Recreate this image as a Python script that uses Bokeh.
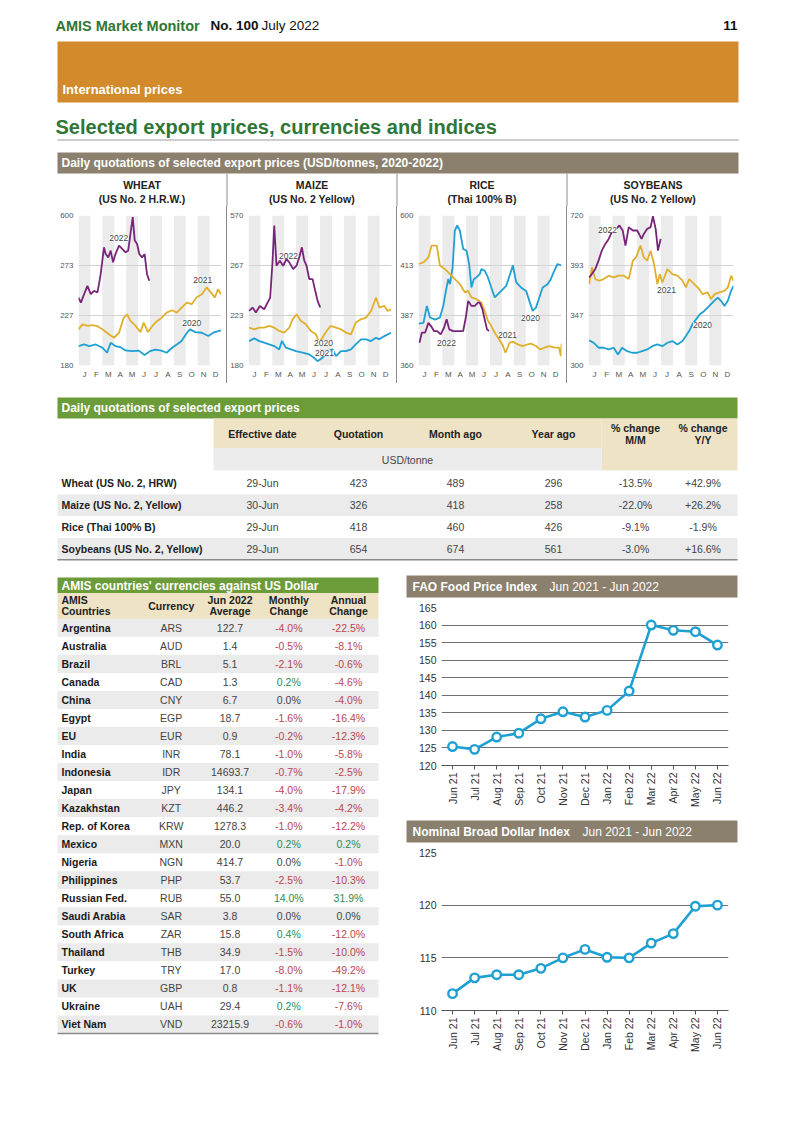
import math
import numpy as np
from bokeh.plotting import figure
from bokeh.layouts import column, row
from bokeh.models import Range1d, FactorRange, FixedTicker, Label, Spacer
from bokeh.core.properties import value
from bokeh.embed import file_html
from bokeh.resources import INLINE

FONT = "Liberation Sans"
BLUE = "#1EA0D2"
GOLD = "#E0B02D"
PURPLE = "#7A2479"
GREEN_T = "#2F7636"
ORANGE = "#D28A2A"
BROWN = "#8B806E"
GREEN_BAR = "#6C9B3A"
BEIGE = "#EEE3C4"
ROWGRAY = "#EBEBEB"
SEP = "#8c8c8c"
RED_T = "#B9464F"
GRN_T = "#2A8C50"

# ---------------- daily export price charts ----------------
MONTHS = ["J", "F", "M", "A", "M", "J", "J", "A", "S", "O", "N", "D"]

WHEAT_TICKS = [180, 227, 273, 600]
W20_X = [0.0, 0.47, 0.9, 1.45, 2.0, 2.4, 2.7, 3.1, 3.5, 3.95, 4.5, 5.05, 5.55, 6.0, 6.45, 6.95, 7.4, 7.85, 8.25, 8.65, 9.1, 9.35, 9.8, 10.35, 10.9, 11.3, 11.95]
W20_Y = [198.3, 199.8, 198.3, 199.8, 196.7, 192.0, 201.4, 198.3, 197.3, 194.2, 193.5, 194.0, 189.8, 193.5, 195.0, 194.0, 192.0, 196.7, 199.8, 203.0, 210.8, 214.0, 211.4, 210.8, 207.7, 210.8, 213.0]
W21_X = [0.0, 0.33, 0.75, 1.17, 1.6, 2.0, 2.55, 2.97, 3.4, 3.8, 4.08, 4.36, 4.8, 5.2, 5.47, 5.83, 6.2, 6.6, 7.0, 7.4, 7.85, 8.25, 8.65, 9.1, 9.5, 9.9, 10.35, 10.75, 11.0, 11.45, 11.7, 11.95]
W21_Y = [214.0, 218.7, 217.2, 218.0, 217.0, 214.0, 209.3, 206.1, 210.8, 225.0, 228.1, 221.9, 217.2, 211.4, 220.3, 211.4, 217.2, 221.9, 225.0, 229.7, 231.8, 229.7, 234.3, 238.9, 237.4, 243.5, 246.6, 252.8, 249.7, 243.5, 251.2, 246.6]
W22_X = [0.0, 0.2, 0.47, 0.75, 1.03, 1.3, 1.58, 1.72, 1.86, 2.0, 2.14, 2.28, 2.5, 2.7, 2.9, 3.1, 3.4, 3.67, 3.95, 4.17, 4.36, 4.55, 4.72, 4.92, 5.1, 5.33, 5.55, 5.75, 5.94]
W22_Y = [243.5, 238.9, 246.6, 254.3, 246.6, 249.7, 248.1, 255.9, 265.1, 304.5, 392.0, 348.0, 326.0, 370.0, 293.6, 348.0, 403.0, 381.0, 359.0, 370.0, 479.7, 589.0, 436.0, 414.0, 348.0, 326.0, 348.0, 265.0, 259.0]

MAIZE_TICKS = [180, 223, 267, 570]
M20_X = [0.05, 0.48, 0.9, 1.32, 1.74, 2.16, 2.58, 2.8, 3.14, 3.56, 3.98, 4.54, 5.1, 5.5, 5.8, 6.2, 6.64, 7.06, 7.34, 7.76, 8.18, 8.6, 9.0, 9.44, 9.86, 10.28, 10.7, 10.98, 11.4, 11.96]
M20_Y = [201.0, 203.3, 201.0, 199.6, 198.1, 196.7, 193.8, 201.0, 195.3, 193.8, 192.4, 191.0, 189.5, 186.6, 183.7, 186.6, 192.4, 193.8, 188.0, 192.4, 192.4, 193.8, 198.1, 202.5, 202.5, 201.0, 203.9, 202.5, 205.3, 208.2]
M21_X = [0.05, 0.48, 0.9, 1.32, 1.74, 2.16, 2.58, 3.0, 3.42, 3.7, 4.03, 4.4, 4.82, 5.24, 5.66, 5.94, 6.2, 6.55, 6.9, 7.34, 7.76, 8.18, 8.6, 9.0, 9.44, 9.86, 10.28, 10.7, 10.98, 11.4, 11.68, 11.96]
M21_Y = [212.5, 211.1, 212.5, 212.5, 214.0, 212.5, 209.7, 208.2, 212.5, 219.7, 224.1, 218.3, 215.4, 209.7, 206.8, 199.6, 203.9, 209.7, 214.0, 212.5, 211.1, 208.2, 206.8, 216.9, 219.7, 221.2, 227.0, 238.8, 230.0, 231.4, 227.0, 228.5]
M22_X = [0.05, 0.34, 0.62, 0.95, 1.32, 1.6, 1.82, 2.02, 2.16, 2.35, 2.63, 2.91, 3.19, 3.42, 3.75, 4.03, 4.26, 4.48, 4.68, 4.87, 5.1, 5.38, 5.6, 5.8, 6.02]
M22_Y = [227.0, 230.0, 225.6, 231.4, 228.5, 234.4, 238.8, 296.0, 509.0, 266.8, 296.0, 266.8, 306.4, 286.0, 263.9, 266.8, 316.5, 377.0, 296.0, 266.8, 255.0, 255.0, 244.7, 235.9, 230.0]

RICE_TICKS = [360, 387, 413, 600]
R20_X = [0.0, 0.42, 0.7, 0.97, 1.4, 1.8, 2.08, 2.3, 2.5, 2.64, 2.86, 3.05, 3.25, 3.47, 3.75, 4.03, 4.25, 4.44, 4.64, 4.86, 5.14, 5.28, 5.55, 5.83, 6.11, 6.4, 6.67, 6.94, 7.36, 7.64, 7.92, 8.2, 8.6, 9.03, 9.3, 9.58, 9.86, 10.14, 10.42, 10.83, 11.1, 11.4, 11.67, 12.0]
R20_Y = [382.6, 383.0, 392.0, 385.9, 384.8, 385.9, 392.0, 399.8, 405.9, 403.3, 412.0, 543.9, 562.6, 543.9, 474.7, 468.5, 418.6, 401.6, 405.9, 406.8, 408.5, 411.2, 410.3, 406.8, 401.6, 396.4, 398.1, 399.8, 402.4, 407.7, 413.0, 404.2, 401.6, 399.8, 394.6, 389.4, 391.1, 396.4, 401.6, 403.3, 405.9, 410.3, 418.6, 413.0]
R21_X = [0.0, 0.42, 0.83, 1.1, 1.53, 1.8, 2.2, 2.64, 3.05, 3.47, 3.9, 4.17, 4.44, 4.86, 5.28, 5.55, 5.83, 6.11, 6.4, 6.67, 7.03, 7.3, 7.64, 7.92, 8.33, 8.75, 9.17, 9.44, 9.86, 10.2, 10.56, 10.97, 11.4, 11.8, 11.95, 12.0]
R21_Y = [418.6, 424.8, 443.5, 487.4, 487.4, 413.0, 411.2, 408.5, 405.9, 403.3, 399.0, 399.8, 396.4, 395.5, 393.7, 389.4, 384.1, 381.3, 377.7, 375.0, 371.4, 366.9, 372.3, 372.8, 371.4, 370.5, 371.4, 371.8, 370.5, 368.7, 369.6, 370.5, 369.6, 369.6, 365.0, 371.8]
R22_X = [0.08, 0.28, 0.55, 0.83, 1.05, 1.3, 1.58, 1.86, 2.14, 2.36, 2.58, 2.92, 3.33, 3.75, 3.97, 4.17, 4.44, 4.72, 5.0, 5.14, 5.36, 5.55, 5.75, 5.92]
R22_Y = [372.3, 377.7, 377.7, 383.0, 381.3, 378.6, 378.6, 376.8, 380.4, 385.0, 379.5, 378.6, 378.6, 378.6, 385.9, 394.6, 392.0, 392.0, 393.7, 393.7, 390.3, 385.0, 379.5, 378.6]

SOY_TICKS = [300, 347, 393, 720]
S20_X = [0.06, 0.42, 0.83, 1.25, 1.67, 2.08, 2.44, 2.78, 3.2, 3.6, 4.03, 4.44, 4.86, 5.28, 5.7, 6.11, 6.53, 6.94, 7.36, 7.78, 8.06, 8.33, 8.6, 8.9, 9.22, 9.58, 10.0, 10.4, 10.7, 10.97, 11.25, 11.53, 11.8, 12.0]
S20_Y = [323.6, 321.4, 316.7, 316.7, 315.1, 316.7, 310.4, 316.7, 313.5, 312.0, 312.0, 313.5, 315.1, 318.2, 319.8, 318.2, 321.4, 323.0, 319.8, 323.0, 327.7, 332.4, 338.7, 343.4, 348.1, 351.2, 355.8, 360.5, 363.5, 360.5, 355.8, 360.5, 369.7, 374.3]
S21_X = [0.06, 0.28, 0.56, 0.9, 1.25, 1.67, 2.08, 2.5, 2.92, 3.33, 3.67, 3.94, 4.3, 4.58, 4.86, 5.14, 5.42, 5.7, 5.9, 6.11, 6.53, 6.94, 7.36, 7.78, 8.06, 8.33, 8.75, 9.17, 9.44, 9.86, 10.14, 10.42, 10.83, 11.25, 11.53, 11.8, 12.0]
S21_Y = [375.9, 391.3, 380.5, 379.0, 380.5, 383.6, 382.0, 383.6, 383.6, 380.5, 424.4, 446.3, 523.0, 446.3, 424.4, 490.0, 402.8, 375.9, 385.1, 377.4, 389.7, 385.1, 383.6, 379.0, 372.8, 380.5, 375.9, 371.2, 366.6, 368.2, 362.0, 366.6, 368.2, 369.7, 372.8, 383.6, 379.0]
S22_X = [0.06, 0.28, 0.56, 0.83, 1.1, 1.39, 1.67, 2.0, 2.28, 2.56, 2.83, 3.06, 3.33, 3.67, 4.03, 4.39, 4.58, 4.86, 5.14, 5.33, 5.56, 5.75, 5.97]
S22_Y = [382.0, 385.1, 389.7, 424.4, 490.0, 534.0, 567.0, 622.0, 632.7, 654.6, 622.0, 523.0, 643.6, 622.0, 622.0, 567.0, 599.6, 632.7, 643.6, 715.0, 632.7, 490.0, 567.0]

PANEL_NAMES = ["WHEAT", "MAIZE", "RICE", "SOYBEANS"]
PANEL_SUBS = ["(US No. 2 H.R.W.)", "(US No. 2 Yellow)", "(Thai 100% B)", "(US No. 2 Yellow)"]
YEARS = ["2020", "2021", "2022"]

# ---------------- table: daily quotations ----------------
PRODUCTS = ["Wheat (US No. 2, HRW)", "Maize (US No. 2, Yellow)", "Rice (Thai 100% B)", "Soybeans (US No. 2, Yellow)"]
EFF_DATE = ["29-Jun", "30-Jun", "29-Jun", "29-Jun"]
QUOTATION = [423, 326, 418, 654]
MONTH_AGO = [489, 418, 460, 674]
YEAR_AGO = [296, 258, 426, 561]
CHG_MM = [-13.5, -22.0, -9.1, -3.0]
CHG_YY = [42.9, 26.2, -1.9, 16.6]

# ---------------- table: currencies ----------------
COUNTRIES = ["Argentina", "Australia", "Brazil", "Canada", "China", "Egypt", "EU", "India", "Indonesia", "Japan",
             "Kazakhstan", "Rep. of Korea", "Mexico", "Nigeria", "Philippines", "Russian Fed.", "Saudi Arabia",
             "South Africa", "Thailand", "Turkey", "UK", "Ukraine", "Viet Nam"]
CURRENCIES = ["ARS", "AUD", "BRL", "CAD", "CNY", "EGP", "EUR", "INR", "IDR", "JPY", "KZT", "KRW", "MXN", "NGN",
              "PHP", "RUB", "SAR", "ZAR", "THB", "TRY", "GBP", "UAH", "VND"]
AVERAGE = [122.7, 1.4, 5.1, 1.3, 6.7, 18.7, 0.9, 78.1, 14693.7, 134.1, 446.2, 1278.3, 20.0, 414.7, 53.7, 55.0,
           3.8, 15.8, 34.9, 17.0, 0.8, 29.4, 23215.9]
MONTHLY = [-4.0, -0.5, -2.1, 0.2, 0.0, -1.6, -0.2, -1.0, -0.7, -4.0, -3.4, -1.0, 0.2, 0.0, -2.5, 14.0, 0.0,
           0.4, -1.5, -8.0, -1.1, 0.2, -0.6]
ANNUAL = [-22.5, -8.1, -0.6, -4.6, -4.0, -16.4, -12.3, -5.8, -2.5, -17.9, -4.2, -12.2, 0.2, -1.0, -10.3, 31.9,
          0.0, -12.0, -10.0, -49.2, -12.1, -7.6, -1.0]

# ---------------- indices ----------------
IDX_MONTHS = ["Jun 21", "Jul 21", "Aug 21", "Sep 21", "Oct 21", "Nov 21", "Dec 21", "Jan 22", "Feb 22",
              "Mar 22", "Apr 22", "May 22", "Jun 22"]
FFPI = [125.4, 124.6, 128.1, 129.2, 133.3, 135.3, 133.8, 135.7, 141.2, 160.0, 158.5, 158.1, 154.3]
DOLLAR = [111.6, 113.1, 113.4, 113.4, 114.0, 115.0, 115.8, 115.05, 115.0, 116.4, 117.3, 119.9, 120.0]


def canvas(x0, x1, y0, y1):
    p = figure(width=int(x1 - x0), height=int(y1 - y0), x_range=Range1d(x0, x1), y_range=Range1d(y1, y0),
               toolbar_location=None, output_backend="svg", min_border=0,
               x_axis_type=None, y_axis_type=None, title=None)
    p.outline_line_color = None
    return p


def put(p, xs, ys, texts, size, color="#333333", bold=False, align="left"):
    p.text(x=list(xs), y=list(ys), text=list(texts), text_font=value(FONT), text_font_size=size,
           text_color=color, text_font_style="bold" if bold else "normal",
           text_align=align, text_baseline="middle")


def box(p, l, r, t, b, color):
    p.quad(left=[l], right=[r], top=[t], bottom=[b], fill_color=color, line_color=None)


def pct_color(v):
    return RED_T if v < 0 else (GRN_T if v > 0 else "#444444")


# ======== header ========
hdr = canvas(8, 785, 8, 206)
put(hdr, [55], [25], ["AMIS Market Monitor"], "14.5px", GREEN_T, bold=True)
put(hdr, [210], [25], ["No. 100"], "13.5px", "#111111", bold=True)
put(hdr, [261], [25], ["July 2022"], "13.5px", "#111111")
put(hdr, [737], [25], ["11"], "13.5px", "#111111", bold=True, align="right")
box(hdr, 57, 738, 41, 102, ORANGE)
put(hdr, [62], [89], ["International prices"], "13px", "white", bold=True)
put(hdr, [55], [126], ["Selected export prices, currencies and indices"], "20px", GREEN_T, bold=True)
hdr.segment(x0=[57], y0=[139.5], x1=[738], y1=[139.5], line_color="#9a9a9a", line_width=1)
box(hdr, 57, 738, 152, 173, BROWN)
put(hdr, [61], [162.5], ["Daily quotations of selected export prices (USD/tonnes, 2020-2022)"], "12px", "white", bold=True)
SEP_X = [226.5, 396.5, 566.5]
hdr.segment(x0=SEP_X, y0=[173] * 3, x1=SEP_X, y1=[206] * 3, line_color=SEP, line_width=1)
PANEL_CX = [141.5, 311.5, 481.5, 652.5]
put(hdr, PANEL_CX, [184] * 4, PANEL_NAMES, "10.5px", "#222222", bold=True, align="center")
put(hdr, PANEL_CX, [198] * 4, PANEL_SUBS, "10.5px", "#222222", bold=True, align="center")


# ======== small charts ========
def small_chart(width, ticks, series, labels):
    pos = list(range(len(ticks)))
    p = figure(width=width, height=177, x_range=Range1d(0, len(MONTHS)), y_range=Range1d(0, pos[-1]),
               toolbar_location=None, output_backend="svg", title=None,
               min_border_left=21, min_border_right=5, min_border_top=9, min_border_bottom=18)
    p.outline_line_color = None
    p.background_fill_color = "white"
    left = [i for i in range(0, len(MONTHS), 2)]
    p.quad(left=left, right=[i + 1 for i in left], bottom=0, top=pos[-1], fill_color="#EBEBEB",
           line_color=None, level="image")
    p.xgrid.visible = False
    p.ygrid.ticker = FixedTicker(ticks=pos)
    p.ygrid.grid_line_color = "#d2d2d2"
    p.ygrid.grid_line_width = 1
    p.yaxis.ticker = FixedTicker(ticks=pos)
    p.yaxis.major_label_overrides = {i: str(t) for i, t in zip(pos, ticks)}
    mids = [i + 0.5 for i in range(len(MONTHS))]
    p.xaxis.ticker = FixedTicker(ticks=mids)
    p.xaxis.major_label_overrides = {m: s for m, s in zip(mids, MONTHS)}
    for ax in (p.xaxis[0], p.yaxis[0]):
        ax.axis_line_color = None
        ax.major_tick_line_color = None
        ax.minor_tick_line_color = None
        ax.major_tick_out = 0
        ax.major_tick_in = 0
        ax.major_label_text_font = FONT
        ax.major_label_text_font_size = "8px"
        ax.major_label_text_color = "#555555"
    p.yaxis.major_label_standoff = 5
    p.xaxis.major_label_standoff = 4
    for (xs, ys), col in zip(series, [BLUE, GOLD, PURPLE]):
        p.line(xs, np.interp(ys, ticks, pos), line_color=col, line_width=1.8)
    for (lx, ly), yr in zip(labels, YEARS):
        p.add_layout(Label(x=lx, y=ly, text=yr, text_font=FONT, text_font_size="8.5px", text_color="#444444",
                           text_align="center", text_baseline="middle", background_fill_color="white"))
    return p


wheat = small_chart(169, WHEAT_TICKS, [(W20_X, W20_Y), (W21_X, W21_Y), (W22_X, W22_Y)],
                    [(9.5, 0.85), (10.43, 1.72), (3.38, 2.56)])
maize = small_chart(169, MAIZE_TICKS, [(M20_X, M20_Y), (M21_X, M21_Y), (M22_X, M22_Y)],
                    [(6.29, 0.45), (6.38, 0.25), (3.36, 2.2)])
rice = small_chart(169, RICE_TICKS, [(R20_X, R20_Y), (R21_X, R21_Y), (R22_X, R22_Y)],
                   [(9.4, 0.95), (7.47, 0.61), (2.35, 0.45)])
soy = small_chart(171, SOY_TICKS, [(S20_X, S20_Y), (S21_X, S21_Y), (S22_X, S22_Y)],
                  [(9.44, 0.81), (6.46, 1.52), (1.57, 2.72)])


def sep():
    return Spacer(width=1, height=177, styles={"background-color": SEP})


chart_row = row(Spacer(width=49, height=177), wheat, sep(), maize, sep(), rice, sep(), soy,
                Spacer(width=47, height=177))

# ======== table 1 ========
t1 = canvas(8, 785, 383, 565)
box(t1, 57, 737, 397, 418, GREEN_BAR)
put(t1, [61], [407.5], ["Daily quotations of selected export prices"], "12px", "white", bold=True)
box(t1, 213, 601, 418, 447.5, BEIGE)
box(t1, 601, 737, 418, 470, BEIGE)
box(t1, 213, 601, 447.5, 470, ROWGRAY)
COLS = [262, 358, 455, 553, 635, 702.5]
put(t1, COLS[:4], [433] * 4, ["Effective date", "Quotation", "Month ago", "Year ago"], "10.5px", "#222222", bold=True, align="center")
put(t1, COLS[4:], [427, 427], ["% change", "% change"], "10.5px", "#222222", bold=True, align="center")
put(t1, COLS[4:], [439.5, 439.5], ["M/M", "Y/Y"], "10.5px", "#222222", bold=True, align="center")
put(t1, [407], [459], ["USD/tonne"], "10.5px", "#444444", align="center")
RH1 = 21.9
ys1 = [482.7 + RH1 * k for k in range(len(PRODUCTS))]
for k, y in enumerate(ys1):
    if k % 2 == 1:
        box(t1, 57, 737, y - RH1 / 2, y + RH1 / 2, ROWGRAY)
put(t1, [61] * len(PRODUCTS), ys1, PRODUCTS, "10.5px", "#222222", bold=True)
columns1 = [EFF_DATE, [str(v) for v in QUOTATION], [str(v) for v in MONTH_AGO], [str(v) for v in YEAR_AGO],
            [f"{v:+.1f}%" for v in CHG_MM], [f"{v:+.1f}%" for v in CHG_YY]]
for cx, colvals in zip(COLS, columns1):
    put(t1, [cx] * len(colvals), ys1, colvals, "10.5px", "#444444", align="center")
t1.segment(x0=[57], y0=[ys1[-1] + RH1 / 2], x1=[737], y1=[ys1[-1] + RH1 / 2], line_color="#8a8a8a", line_width=1.5)

# ======== currency table ========
ct = canvas(8, 400, 565, 1110)
box(ct, 57, 378, 577, 592.5, GREEN_BAR)
put(ct, [61], [585], ["AMIS countries' currencies against US Dollar"], "12px", "white", bold=True)
box(ct, 57, 378, 592.5, 618.5, BEIGE)
CCOLS = [170.7, 229.5, 288.3, 348]
put(ct, [61], [599.5], ["AMIS"], "10.5px", "#222222", bold=True)
put(ct, [61], [610.5], ["Countries"], "10.5px", "#222222", bold=True)
put(ct, [CCOLS[0]], [605], ["Currency"], "10.5px", "#222222", bold=True, align="center")
put(ct, CCOLS[1:], [599.5] * 3, ["Jun 2022", "Monthly", "Annual"], "10.5px", "#222222", bold=True, align="center")
put(ct, CCOLS[1:], [610.5] * 3, ["Average", "Change", "Change"], "10.5px", "#222222", bold=True, align="center")
RH2 = 18.03
ys2 = [627.3 + RH2 * k for k in range(len(COUNTRIES))]
for k, y in enumerate(ys2):
    if k % 2 == 0:
        box(ct, 57, 378, y - RH2 / 2, y + RH2 / 2, ROWGRAY)
put(ct, [61] * len(COUNTRIES), ys2, COUNTRIES, "10.5px", "#1a1a1a", bold=True)
put(ct, [CCOLS[0]] * len(COUNTRIES), ys2, CURRENCIES, "10.5px", "#444444", align="center")
put(ct, [CCOLS[1]] * len(COUNTRIES), ys2, [f"{v:.1f}" for v in AVERAGE], "10.5px", "#444444", align="center")
for cx, vals in ((CCOLS[2], MONTHLY), (CCOLS[3], ANNUAL)):
    ct.text(x=[cx] * len(vals), y=ys2, text=[f"{v:.1f}%" for v in vals], text_font=value(FONT),
            text_font_size="10.5px", text_color=[pct_color(v) for v in vals], text_align="center",
            text_baseline="middle")
ct.segment(x0=[57], y0=[ys2[-1] + RH2 / 2], x1=[378], y1=[ys2[-1] + RH2 / 2], line_color="#8a8a8a", line_width=1.5)


# ======== index charts ========
def bar_canvas(y0, y1, bt, bb, bold_title, sub, sub_x):
    c = canvas(400, 785, y0, y1)
    box(c, 406, 737, bt, bb, BROWN)
    put(c, [412], [(bt + bb) / 2], [bold_title], "12px", "white", bold=True)
    put(c, [sub_x], [(bt + bb) / 2], [sub], "12px", "white")
    return c


def index_chart(vals, lo, hi, height, bottom):
    ticks = list(range(lo, hi + 1, 5))
    p = figure(width=385, height=height, x_range=FactorRange(*IDX_MONTHS), y_range=Range1d(lo, hi),
               toolbar_location=None, output_backend="svg", title=None,
               min_border_left=41, min_border_right=57, min_border_top=9, min_border_bottom=bottom)
    p.outline_line_color = None
    p.xgrid.visible = False
    p.ygrid.ticker = FixedTicker(ticks=ticks)
    p.ygrid.grid_line_color = "#707070"
    p.ygrid.grid_line_width = 1
    p.yaxis.ticker = FixedTicker(ticks=ticks)
    p.yaxis.axis_line_color = None
    p.yaxis.major_tick_line_color = None
    p.yaxis.minor_tick_line_color = None
    p.yaxis.major_tick_out = 0
    p.yaxis.major_label_standoff = 5
    p.xaxis.axis_line_color = "#555555"
    p.xaxis.major_tick_line_color = "#555555"
    p.xaxis.major_tick_out = 4
    p.xaxis.major_tick_in = 0
    p.xaxis.major_label_standoff = 3
    p.xaxis.major_label_orientation = math.pi / 2
    for ax in (p.xaxis[0], p.yaxis[0]):
        ax.major_label_text_font = FONT
        ax.major_label_text_font_size = "10.5px"
        ax.major_label_text_color = "#333333"
    p.line(IDX_MONTHS, vals, line_color=BLUE, line_width=2.6)
    p.scatter(IDX_MONTHS, vals, marker="circle", size=8.5, fill_color="white", line_color=BLUE, line_width=2.4)
    return p


fao_bar = bar_canvas(565, 598, 575, 597, "FAO Food Price Index", "Jun 2021 - Jun 2022", 549)
fao = index_chart(FFPI, 120, 165, 214, 47)
usd_bar = bar_canvas(812, 843, 820, 842, "Nominal Broad Dollar Index", "Jun 2021 - Jun 2022", 582)
usd = index_chart(DOLLAR, 110, 125, 217, 50)

right_col = column(row(fao_bar), row(fao), row(usd_bar), row(usd), Spacer(width=385, height=50))
bottom_row = row(ct, right_col)

page = column(Spacer(width=777, height=8), hdr, chart_row, t1, bottom_row)
root = row(Spacer(width=8, height=1110), page)
open("out.html", "w").write(file_html(root, INLINE))
